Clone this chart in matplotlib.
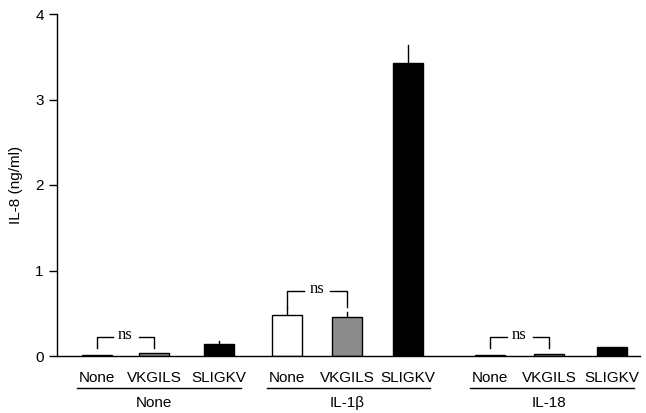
import matplotlib
matplotlib.use('Agg')
import matplotlib.pyplot as plt
from matplotlib.transforms import blended_transform_factory

# IL-8 release per pretreatment group
groups = ["None", "IL-1\u03b2", "IL-18"]
peptides = ["None", "VKGILS", "SLIGKV"]
means = [
    [0.01, 0.03, 0.14],
    [0.48, 0.46, 3.43],
    [0.01, 0.02, 0.10],
]
errors = [
    [0.0, 0.0, 0.03],
    [0.09, 0.05, 0.21],
    [0.0, 0.0, 0.0],
]
ns_heights = [0.22, 0.76, 0.22]

colors = ["white", "#8c8c8c", "black"]
# bar centres in axis units, one row per group
positions = [
    [97, 154, 219],
    [287, 347, 408],
    [490, 549, 612],
]
width = 30
fs = 11

plt.rcParams['font.family'] = ['Liberation Sans', 'DejaVu Sans']
fig = plt.figure(figsize=(6.46, 4.13), dpi=100)
ax = fig.add_axes([57 / 646, 57 / 413, 583 / 646, 342 / 413])

for g, xs in enumerate(positions):
    for i, x in enumerate(xs):
        ax.bar(x, means[g][i], width=width, color=colors[i],
               edgecolor="black", linewidth=1, zorder=2)
        if errors[g][i] > 0:
            ax.plot([x, x], [means[g][i], means[g][i] + errors[g][i]],
                    color="black", lw=1, zorder=1)
    # ns bracket between None and VKGILS
    y = ns_heights[g]
    drop = 0.19 if g == 1 else 0.13
    x0, x1 = xs[0], xs[1]
    mid = (x0 + x1) / 2
    ax.plot([x0, x0, mid - 13], [y - drop, y, y], color="black", lw=1)
    ax.plot([mid + 13, x1, x1], [y, y, y - drop], color="black", lw=1)
    ax.text(mid, y + 0.02, "ns", ha="center", va="center",
            fontsize=12, family=["Liberation Serif"])

trans = blended_transform_factory(ax.transData, ax.transAxes)
for g, xs in enumerate(positions):
    for i, x in enumerate(xs):
        ax.text(x, -0.065, peptides[i], transform=trans, ha="center",
                va="center", fontsize=fs)
    ax.plot([xs[0] - 20, xs[2] + 22], [-0.095, -0.095], transform=trans,
            color="black", lw=1, clip_on=False)
    ax.text(xs[1], -0.138, groups[g], transform=trans, ha="center",
            va="center", fontsize=fs)

ax.set_xlim(57, 640)
ax.set_ylim(0, 4)
ax.set_yticks([0, 1, 2, 3, 4])
ax.set_xticks([])
ax.spines['top'].set_visible(False)
ax.spines['right'].set_visible(False)
ax.spines['bottom'].set_linewidth(1)
ax.spines['left'].set_linewidth(1)
ax.tick_params(axis='y', direction='out', length=6, width=1, labelsize=fs)
ax.set_ylabel("IL-8 (ng/ml)", fontsize=fs, labelpad=9)

fig.savefig("out.png", dpi=100)
